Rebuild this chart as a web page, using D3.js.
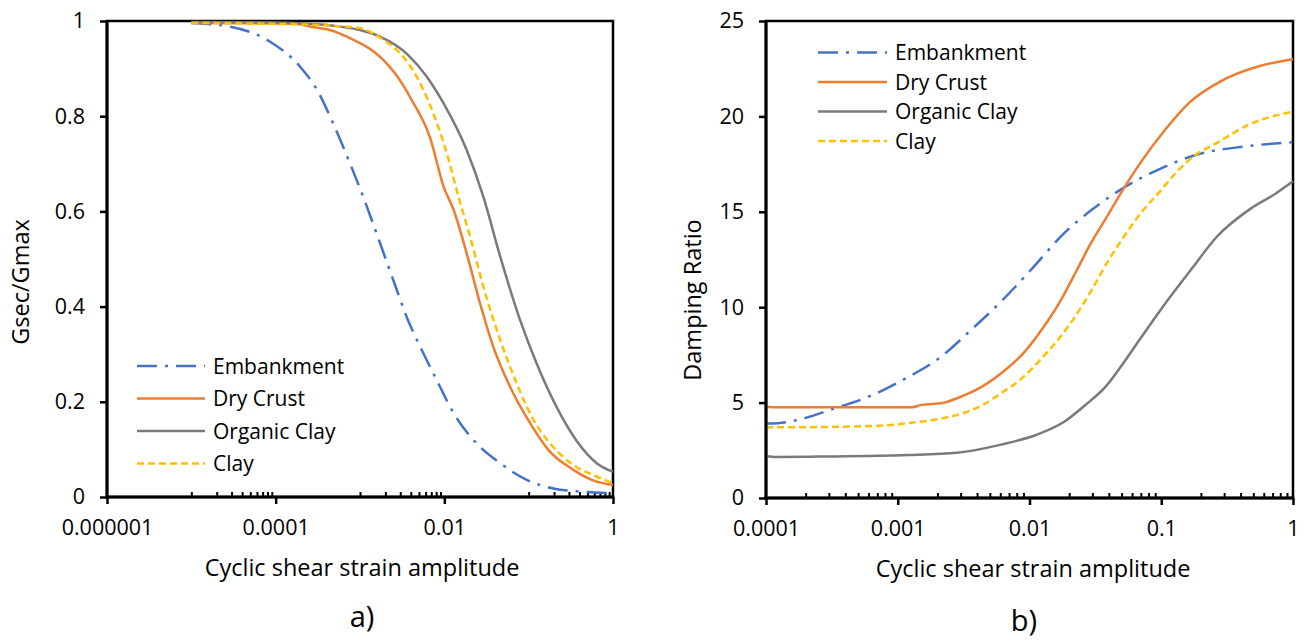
<!DOCTYPE html>
<html><head><meta charset="utf-8">
<script src="https://cdn.jsdelivr.net/npm/d3@7"></script>
<style>body{margin:0;background:#fff}svg{display:block;font-family:"Open Sans",sans-serif}</style>
</head><body><svg id="c" width="1304" height="641"></svg>
<script>
// ---------- DATA ----------
const seriesNames = ["Embankment", "Dry Crust", "Organic Clay", "Clay"];

// a) Gsec/Gmax vs strain
const embankG_x = [1e-5, 2.9e-5, 8.5e-5, 1.95e-4, 3.1e-4, 4.8e-4, 7.6e-4, 1.15e-3, 1.73e-3, 2.4e-3, 3.7e-3, 5.4e-3, 8.1e-3, 0.0129, 0.024, 0.046, 0.095, 0.196, 0.447, 1];
const embankG_y = [0.996, 0.988, 0.957, 0.904, 0.855, 0.785, 0.701, 0.620, 0.533, 0.463, 0.372, 0.309, 0.246, 0.176, 0.113, 0.071, 0.036, 0.018, 0.011, 0.008];
const dryG_x = [1e-5, 1e-4, 1.95e-4, 2.6e-4, 4.4e-4, 7.6e-4, 1.45e-3, 1.9e-3, 2.6e-3, 4.1e-3, 6.8e-3, 9.8e-3, 0.0129, 0.0184, 0.0265, 0.038, 0.060, 0.104, 0.171, 0.339, 0.56, 1];
const dryG_y = [0.996, 0.995, 0.993, 0.988, 0.981, 0.964, 0.936, 0.918, 0.890, 0.834, 0.754, 0.652, 0.603, 0.512, 0.407, 0.316, 0.232, 0.155, 0.099, 0.057, 0.036, 0.025];
const orgG_x = [1e-5, 1e-4, 1.95e-4, 4.8e-4, 1e-3, 1.73e-3, 3.7e-3, 6.2e-3, 9.8e-3, 0.0184, 0.029, 0.046, 0.079, 0.124, 0.236, 0.37, 0.64, 1];
const orgG_y = [0.998, 0.997, 0.995, 0.990, 0.981, 0.967, 0.929, 0.883, 0.827, 0.729, 0.631, 0.505, 0.372, 0.281, 0.175, 0.118, 0.071, 0.053];
const clayG_x = [1e-5, 1e-4, 1.95e-4, 4.8e-4, 1e-3, 1.9e-3, 3e-3, 4.7e-3, 7.4e-3, 0.0107, 0.0147, 0.0202, 0.029, 0.046, 0.072, 0.114, 0.179, 0.339, 0.585, 1];
const clayG_y = [0.996, 0.994, 0.993, 0.990, 0.985, 0.960, 0.932, 0.883, 0.806, 0.722, 0.631, 0.547, 0.442, 0.330, 0.239, 0.162, 0.113, 0.067, 0.046, 0.029];

// b) Damping ratio vs strain
const embankD_x = [1e-4, 1.23e-4, 1.95e-4, 3.16e-4, 6.2e-4, 1.12e-3, 2.1e-3, 3.55e-3, 6.2e-3, 0.0107, 0.0182, 0.0295, 0.051, 0.1, 0.182, 0.427, 1];
const embankD_y = [3.9, 3.92, 4.18, 4.65, 5.35, 6.23, 7.37, 8.77, 10.35, 12.1, 13.86, 15.09, 16.23, 17.28, 17.98, 18.42, 18.65];
const dryD_x = [1e-4, 1.2e-4, 1.29e-3, 1.51e-3, 2.19e-3, 2.82e-3, 3.9e-3, 6.2e-3, 9.1e-3, 0.0129, 0.0174, 0.0229, 0.0282, 0.038, 0.051, 0.069, 0.107, 0.162, 0.282, 0.55, 1];
const dryD_y = [4.8, 4.75, 4.76, 4.88, 4.98, 5.23, 5.65, 6.58, 7.63, 9.0, 10.4, 11.95, 13.16, 14.65, 16.14, 17.54, 19.3, 20.7, 21.84, 22.63, 23.0];
const orgD_x = [1e-4, 1.2e-4, 2.5e-4, 1.2e-3, 2.82e-3, 6.2e-3, 0.0112, 0.0182, 0.0263, 0.038, 0.051, 0.069, 0.1, 0.174, 0.263, 0.48, 0.74, 1];
const orgD_y = [2.2, 2.15, 2.17, 2.25, 2.37, 2.81, 3.3, 3.98, 4.85, 5.85, 7.02, 8.33, 9.91, 12.1, 13.68, 15.18, 15.96, 16.6];
const clayD_x = [1e-4, 4e-4, 8e-4, 1.3e-3, 2.2e-3, 3.2e-3, 4.5e-3, 6.2e-3, 8.9e-3, 0.0129, 0.0174, 0.0224, 0.0295, 0.0398, 0.054, 0.073, 0.1, 0.128, 0.182, 0.263, 0.46, 1];
const clayD_y = [3.7, 3.74, 3.8, 3.95, 4.18, 4.47, 4.91, 5.53, 6.32, 7.46, 8.5, 9.55, 10.88, 12.46, 13.86, 15.09, 16.14, 17.02, 17.98, 18.6, 19.56, 20.25];

// tick values / labels
const gTickValues = [0, 0.2, 0.4, 0.6, 0.8, 1];
const gTickLabels = ["0", "0.2", "0.4", "0.6", "0.8", "1"];
const dTickValues = [0, 5, 10, 15, 20, 25];
const dTickLabels = ["0", "5", "10", "15", "20", "25"];
const aXTickValues = [1e-6, 1e-4, 1e-2, 1];
const aXTickLabels = ["0.000001", "0.0001", "0.01", "1"];
const bXTickValues = [1e-4, 1e-3, 1e-2, 1e-1, 1];
const bXTickLabels = ["0.0001", "0.001", "0.01", "0.1", "1"];

// ---------- STYLE ----------
const colors = ["#4472C4", "#ED7D31", "#7A7A7A", "#FFC000"];
const dashes = ["20,8,3,8", null, null, "7,4"];

const svg = d3.select("#c");

function panel(opt) {
  const x = d3.scaleLog().domain(opt.xDomain).range(opt.xRange);
  const y = d3.scaleLinear().domain(opt.yDomain).range(opt.yRange);
  const g = svg.append("g");

  // minor x ticks (inside)
  const minor = [];
  opt.minorFn(minor);
  g.append("g").attr("transform", `translate(0,${opt.yRange[0]})`)
    .call(d3.axisBottom(x).tickValues(minor).tickSize(-5).tickFormat(""))
    .call(s => s.select(".domain").remove())
    .call(s => s.selectAll("line").attr("stroke", "#000").attr("stroke-width", 2));

  // major x ticks
  g.append("g").attr("transform", `translate(0,${opt.yRange[0]})`)
    .call(d3.axisBottom(x).tickValues(opt.xTicks).tickSize(7).tickPadding(16)
      .tickFormat((d, i) => opt.xLabels[i]))
    .call(s => s.select(".domain").remove())
    .call(s => s.selectAll("line").attr("stroke", "#000").attr("stroke-width", 2.5))
    .call(s => s.selectAll("text").attr("fill", "#000").style("font-size", "21.5px")
      .style("font-family", '"Open Sans",sans-serif'));

  // y ticks
  g.append("g").attr("transform", `translate(${opt.xRange[0]},0)`)
    .call(d3.axisLeft(y).tickValues(opt.yTicks).tickSize(7).tickPadding(15)
      .tickFormat((d, i) => opt.yLabels[i]))
    .call(s => s.select(".domain").remove())
    .call(s => s.selectAll("line").attr("stroke", "#000").attr("stroke-width", 2.5))
    .call(s => s.selectAll("text").attr("fill", "#000").style("font-size", "21.5px")
      .style("font-family", '"Open Sans",sans-serif'));

  // plot border
  const [x0, x1] = opt.xRange, [yb, yt] = opt.yRange;
  g.append("rect").attr("x", x0).attr("y", yt).attr("width", x1 - x0).attr("height", yb - yt)
    .attr("fill", "none").attr("stroke", "#000").attr("stroke-width", 2.5);

  // series
  const line = d3.line().x(d => x(d[0])).y(d => y(d[1])).curve(d3.curveMonotoneX);
  opt.series.forEach((s, i) => {
    const pts = s[0].map((v, k) => [v, s[1][k]]);
    g.append("path").datum(pts).attr("d", line).attr("fill", "none")
      .attr("stroke", colors[i]).attr("stroke-width", 2.5)
      .attr("stroke-dasharray", dashes[i]).attr("stroke-linejoin", "round");
  });

  // thick axis lines
  g.append("line").attr("x1", x0).attr("x2", x0).attr("y1", yt).attr("y2", yb + 1.5)
    .attr("stroke", "#000").attr("stroke-width", 3);
  g.append("line").attr("x1", x0 - 1.5).attr("x2", x1 + 1.2).attr("y1", yb).attr("y2", yb)
    .attr("stroke", "#000").attr("stroke-width", 3);

  // legend
  opt.legendRows.forEach((ly, i) => {
    g.append("line").attr("x1", opt.legendX[0]).attr("x2", opt.legendX[1])
      .attr("y1", ly).attr("y2", ly).attr("stroke", colors[i]).attr("stroke-width", 2.5)
      .attr("stroke-dasharray", dashes[i]);
    g.append("text").attr("x", opt.legendX[2]).attr("y", ly + 7.5)
      .style("font-size", "21px").attr("fill", "#000").text(seriesNames[i]);
  });

  // axis titles
  g.append("text").attr("x", opt.xTitlePos[0]).attr("y", opt.xTitlePos[1])
    .attr("text-anchor", "middle").style("font-size", "23.5px").attr("fill", "#000")
    .text("Cyclic shear strain amplitude");
  g.append("text").attr("transform", `translate(${opt.yTitlePos[0]},${opt.yTitlePos[1]}) rotate(-90)`)
    .attr("text-anchor", "middle").style("font-size", "23.5px").attr("fill", "#000")
    .text(opt.yTitle);
  g.append("text").attr("x", opt.capPos[0]).attr("y", opt.capPos[1])
    .attr("text-anchor", "middle").style("font-size", "29px").attr("fill", "#000")
    .text(opt.caption);
}

panel({
  xDomain: [1e-6, 1], xRange: [107, 613],
  yDomain: [0, 1], yRange: [497, 21],
  xTicks: aXTickValues, xLabels: aXTickLabels,
  yTicks: gTickValues, yLabels: gTickLabels,
  minorFn: arr => { for (let e = -6; e < 0; e += 2) for (let m = 1; m <= 9; m++) arr.push(m * Math.pow(10, e + 1)); },
  series: [[embankG_x, embankG_y], [dryG_x, dryG_y], [orgG_x, orgG_y], [clayG_x, clayG_y]],
  legendRows: [366, 398.5, 431, 463.5], legendX: [137, 205, 213],
  xTitlePos: [362, 576], yTitlePos: [29, 282], yTitle: "Gsec/Gmax",
  capPos: [362, 627], caption: "a)"
});

panel({
  xDomain: [1e-4, 1], xRange: [766, 1293],
  yDomain: [0, 25], yRange: [498, 21],
  xTicks: bXTickValues, xLabels: bXTickLabels,
  yTicks: dTickValues, yLabels: dTickLabels,
  minorFn: arr => { for (let e = -4; e < 0; e++) for (let m = 2; m <= 9; m++) arr.push(m * Math.pow(10, e)); },
  series: [[embankD_x, embankD_y], [dryD_x, dryD_y], [orgD_x, orgD_y], [clayD_x, clayD_y]],
  legendRows: [52.5, 82, 111.5, 141], legendX: [818, 887, 895],
  xTitlePos: [1033, 577], yTitlePos: [701, 300], yTitle: "Damping Ratio",
  capPos: [1024, 631], caption: "b)"
});
</script></body></html>
